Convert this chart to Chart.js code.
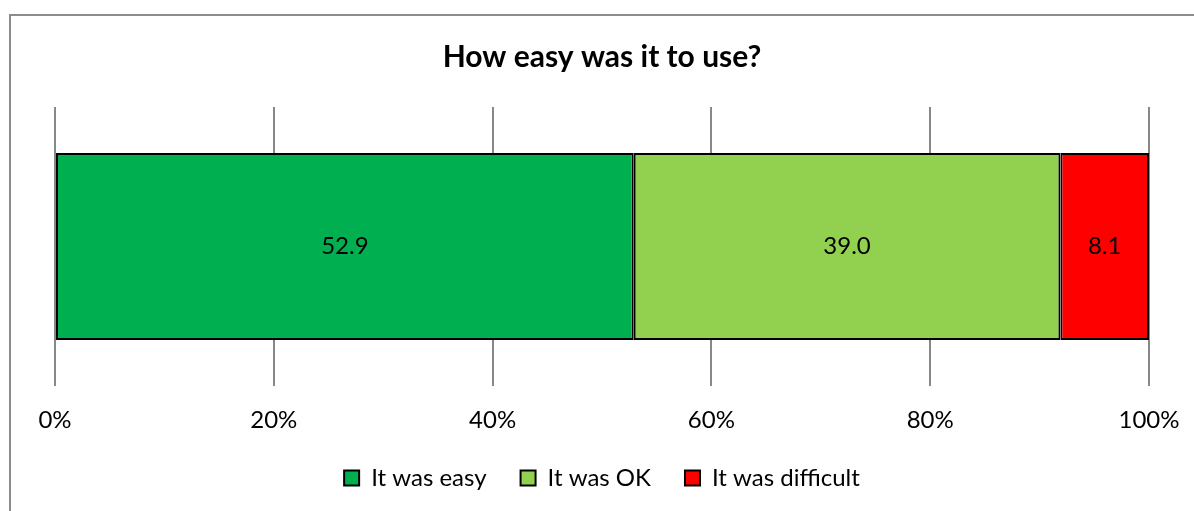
<!DOCTYPE html>
<html>
<head>
<meta charset="utf-8">
<script src="https://cdn.jsdelivr.net/npm/chart.js@4.4.0/dist/chart.umd.min.js"></script>
<style>
  html, body { margin: 0; padding: 0; background: #fff; }
  #wrap { position: relative; width: 1194px; height: 511px; }
</style>
</head>
<body>
<div id="wrap"><canvas id="chart" width="1194" height="511"></canvas></div>
<script>
const titleText = 'How easy was it to use?';
const categories = [''];
const seriesNames = ['It was easy', 'It was OK', 'It was difficult'];
const easyValues = [52.9];
const okValues = [39.0];
const difficultValues = [8.1];
const seriesColors = ['#00B050', '#92D050', '#FF0000'];

const FONT = 'Lato, "Open Sans", sans-serif';

// outer frame like the Excel chart area (only left/top edges visible)
const framePlugin = {
    id: 'frame',
    beforeDraw(chart) {
        const ctx = chart.ctx;
        ctx.save();
        ctx.strokeStyle = '#8c8c8c';
        ctx.lineWidth = 2;
        ctx.beginPath();
        ctx.moveTo(10, 600);
        ctx.lineTo(10, 15);
        ctx.lineTo(1300, 15);
        ctx.stroke();
        ctx.restore();
    },
};

// value labels centred in each segment
const valueLabels = {
    id: 'valueLabels',
    afterDatasetsDraw(chart) {
        const ctx = chart.ctx;
        ctx.save();
        ctx.font = '24px ' + FONT;
        ctx.fillStyle = '#000';
        ctx.textAlign = 'center';
        ctx.textBaseline = 'middle';
        chart.data.datasets.forEach((ds, i) => {
            chart.getDatasetMeta(i).data.forEach((bar, j) => {
                const p = bar.getProps(['x', 'y', 'base'], true);
                ctx.fillText(ds.data[j].toFixed(1), (p.x + p.base) / 2, p.y);
            });
        });
        ctx.restore();
    },
};

const allValues = [easyValues, okValues, difficultValues];

new Chart(document.getElementById('chart'), {
    type: 'bar',
    data: {
        labels: categories,
        datasets: seriesNames.map((name, i) => ({
            label: name,
            data: allValues[i],
            backgroundColor: seriesColors[i],
            borderColor: '#000',
            borderWidth: 2,
            borderSkipped: false,
            categoryPercentage: 1,
            barPercentage: 0.67,
        })),
    },
    options: {
        indexAxis: 'y',
        responsive: false,
        animation: false,
        layout: { padding: { left: 55, right: 45, top: 39, bottom: 11 } },
        scales: {
            x: {
                stacked: true,
                min: 0,
                max: 100,
                border: { display: false },
                grid: { color: '#888', lineWidth: 2, drawTicks: false },
                ticks: {
                    stepSize: 20,
                    padding: 20,
                    color: '#000',
                    font: { family: FONT, size: 24 },
                    callback: (v) => v + '%',
                },
                afterFit: (scale) => {
                    scale.height = 46;
                    scale.paddingLeft = 0;
                    scale.paddingRight = 0;
                },
            },
            y: { stacked: true, display: false },
        },
        plugins: {
            title: {
                display: true,
                text: titleText,
                color: '#000',
                font: { family: FONT, size: 30, weight: 'bold' },
                padding: { top: 0, bottom: 32 },
            },
            legend: {
                position: 'bottom',
                labels: {
                    boxWidth: 15,
                    boxHeight: 15,
                    padding: 34,
                    color: '#000',
                    font: { family: FONT, size: 24 },
                },
            },
            tooltip: { enabled: false },
        },
    },
    plugins: [framePlugin, valueLabels],
});
</script>
</body>
</html>
